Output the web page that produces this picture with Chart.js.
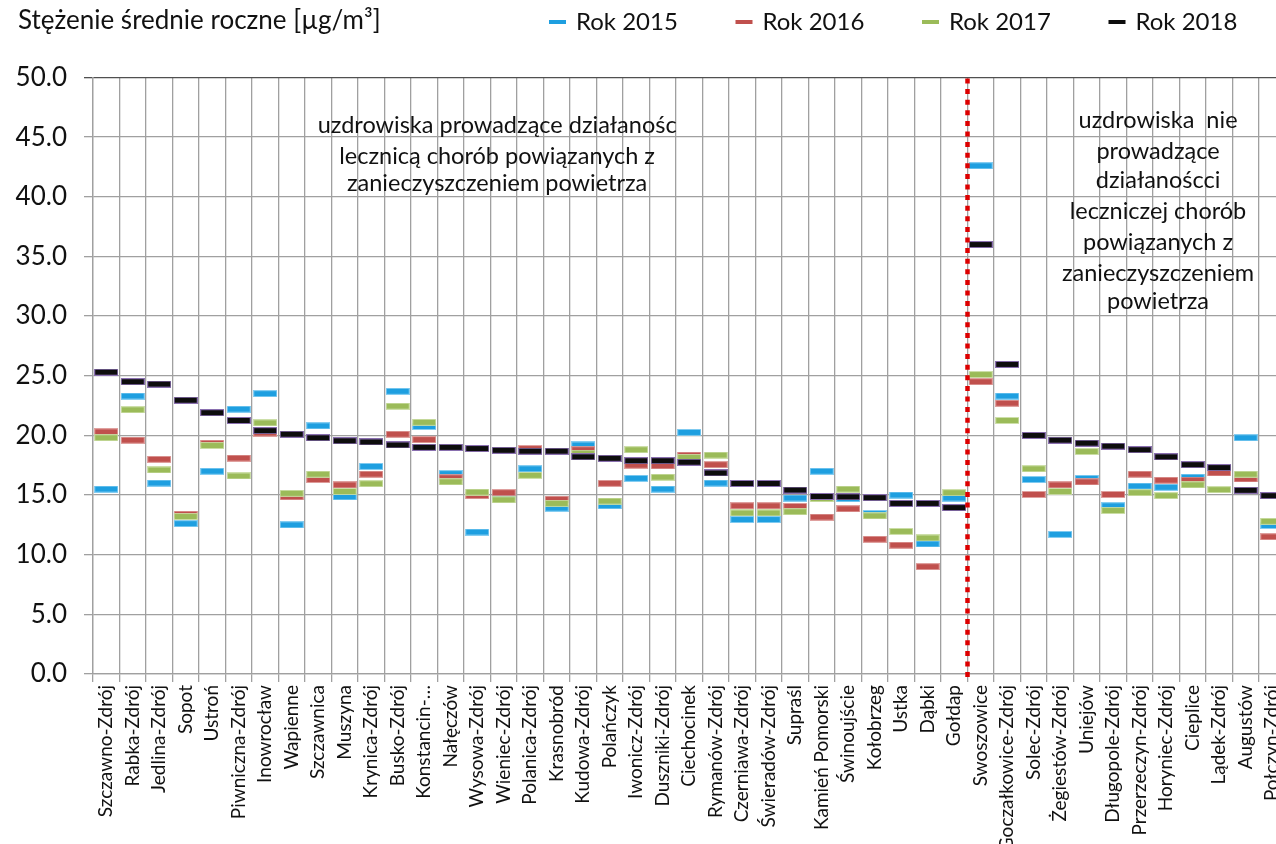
<!DOCTYPE html>
<html><head><meta charset="utf-8">
<script src="https://cdn.jsdelivr.net/npm/chart.js@4.4.1/dist/chart.umd.min.js"></script>
<style>html,body{margin:0;padding:0;background:#fff;overflow:hidden;width:1276px;height:844px}canvas{display:block}</style>
</head><body><canvas id="c" width="1310" height="844"></canvas>
<script>
const categories = ['Szczawno-Zdrój','Rabka-Zdrój','Jedlina-Zdrój','Sopot','Ustroń','Piwniczna-Zdrój','Inowrocław','Wapienne','Szczawnica','Muszyna','Krynica-Zdrój','Busko-Zdrój','Konstancin-…','Nałęczów','Wysowa-Zdrój','Wieniec-Zdrój','Polanica-Zdrój','Krasnobród','Kudowa-Zdrój','Polańczyk','Iwonicz-Zdrój','Duszniki-Zdrój','Ciechocinek','Rymanów-Zdrój','Czerniawa-Zdrój','Świeradów-Zdrój','Supraśl','Kamień Pomorski','Świnoujście','Kołobrzeg','Ustka','Dąbki','Gołdap','Swoszowice','Goczałkowice-Zdrój','Solec-Zdrój','Żegiestów-Zdrój','Uniejów','Długopole-Zdrój','Przerzeczyn-Zdrój','Horyniec-Zdrój','Cieplice','Lądek-Zdrój','Augustów','Połczyn-Zdrój'];
const seriesNames = ['Rok 2015','Rok 2016','Rok 2017','Rok 2018'];
const values2015 = [15.5,23.3,16.0,12.6,17.0,22.2,23.5,12.5,20.8,14.85,17.4,23.7,20.75,16.8,11.9,14.9,17.2,13.9,19.2,14.1,16.4,15.5,20.25,16.0,12.95,12.95,14.75,17.0,14.7,13.45,15.0,10.9,14.75,42.6,23.3,16.3,11.7,16.4,14.1,15.75,15.65,16.5,null,19.8,12.45];
const values2016 = [20.3,19.6,18.0,13.4,19.35,18.1,20.2,14.85,16.3,15.85,16.75,20.1,19.65,16.45,14.95,15.2,18.9,14.65,18.8,15.98,17.5,17.45,18.35,17.55,14.1,14.1,14.05,13.15,13.85,11.3,10.8,9.0,null,24.5,22.7,15.05,15.85,16.1,15.05,16.75,16.25,16.25,16.85,16.35,11.5];
const values2017 = [19.8,22.15,17.1,13.2,19.15,16.6,21.05,15.15,16.75,15.3,15.95,22.45,21.1,16.1,15.25,14.6,16.65,14.3,18.5,14.5,18.8,16.5,18.15,18.35,13.5,13.5,13.6,14.7,15.5,13.25,11.95,11.4,15.2,25.1,21.25,17.2,15.3,18.65,13.7,15.2,14.95,15.85,15.45,16.75,12.8];
const values2018 = [25.3,24.5,24.3,22.95,21.9,21.25,20.4,20.1,19.8,19.55,19.45,19.2,19.0,19.0,18.9,18.75,18.68,18.68,18.2,18.08,17.88,17.88,17.75,16.85,15.97,15.97,15.42,14.88,14.85,14.78,14.3,14.3,13.95,36.0,25.95,20.0,19.6,19.35,19.1,18.8,18.2,17.55,17.3,15.4,14.95];
const yMin = 0, yMax = 50, yStep = 5;
const dividerAfter = 'Gołdap';
const titleText = 'Stężenie średnie roczne [µg/m³]';
const noteLeft = ['uzdrowiska prowadzące działanośc','lecznicą chorób powiązanych z','zanieczyszczeniem powietrza'];
const noteRight = ['uzdrowiska  nie','prowadzące','działanoścci','leczniczej chorób','powiązanych z','zanieczyszczeniem','powietrza'];

const colors = ['#1e9fe0','#c0504d','#9bbb59','#0d0d0d'];
const edges = ['rgba(120,200,240,0.9)','rgba(220,150,148,0.9)','rgba(200,220,160,0.9)','#8a70b0'];

function makeMarker(fill, edge){
  const c = document.createElement('canvas');
  c.width = 24; c.height = 7;
  const g = c.getContext('2d');
  g.fillStyle = edge; g.fillRect(0,0,24,7);
  g.fillStyle = fill; g.fillRect(1,1,22,5);
  return c;
}

const FONT = 'Lato, "Open Sans", sans-serif';
const GRID = '#a0a0a0';

const allValues = [values2015, values2016, values2017, values2018];
const datasets = seriesNames.map((n,i)=>({
  label:n, data:allValues[i], showLine:false,
  pointStyle: makeMarker(colors[i], edges[i]),
  pointRadius:5, pointHoverRadius:5,
  borderColor:colors[i], backgroundColor:colors[i],
  order: 3-i
}));

const deco = {
  id:'deco',
  afterDatasetsDraw(chart){
    const ctx = chart.ctx, xs = chart.scales.x, ys = chart.scales.y, a = chart.chartArea;
    const k = categories.indexOf(dividerAfter);
    const xd = (xs.getPixelForValue(k) + xs.getPixelForValue(k+1))/2;
    ctx.save();
    ctx.strokeStyle = '#dd0000'; ctx.lineWidth = 4.5; ctx.setLineDash([5,5.6]);
    ctx.beginPath(); ctx.moveTo(xd, a.top+1); ctx.lineTo(xd, a.bottom+3); ctx.stroke();
    ctx.setLineDash([]);
    ctx.fillStyle = '#111'; ctx.textAlign='center'; ctx.textBaseline='middle';
    ctx.font = '23.5px ' + FONT;
    const lVals = [46.0,43.4,41.1];
    noteLeft.forEach((t,i)=>ctx.fillText(t, xs.getPixelForValue(14.75), ys.getPixelForValue(lVals[i])));
    const rVals = [46.4,43.8,41.4,38.8,36.2,33.6,31.2];
    noteRight.forEach((t,i)=>ctx.fillText(t, xs.getPixelForValue(39.69), ys.getPixelForValue(rVals[i])));
    // title
    ctx.textAlign='left';
    ctx.font = '26px ' + FONT;
    ctx.fillText(titleText, 18, 21);
    // legend
    ctx.font = '24px ' + FONT;
    seriesNames.forEach((n,i)=>{
      const mx = 549 + i*186.5;
      ctx.fillStyle = colors[i];
      ctx.fillRect(mx, 20, 17, 4);
      ctx.fillStyle = '#111';
      ctx.fillText(n, mx+27, 22);
    });
    ctx.restore();
  }
};

new Chart(document.getElementById('c'), {
  type:'line',
  data:{labels:categories, datasets},
  options:{
    responsive:false, animation:false, events:[],
    layout:{padding:{top:77.5,right:24.5,left:0,bottom:0}},
    plugins:{legend:{display:false}, title:{display:false}, tooltip:{enabled:false}},
    scales:{
      x:{
        offset:true,
        grid:{offset:true, color:GRID, lineWidth:1.3, tickLength:8, drawTicks:true},
        border:{color:GRID, width:1.3},
        ticks:{autoSkip:false, minRotation:90, maxRotation:90, padding:3, color:'#111', font:{family:FONT, size:19}},
        afterFit(s){ s.height = 170; }
      },
      y:{
        min:yMin, max:yMax,
        grid:{color:(c)=> c.tick && c.tick.value===yMax ? '#505050' : GRID, lineWidth:1.3, tickLength:9},
        border:{color:GRID, width:1.3},
        ticks:{stepSize:yStep, padding:17, color:'#111', font:{family:FONT, size:26}, callback:(v)=>Number(v).toFixed(1)},
        afterFit(s){ s.width = 93; }
      }
    }
  },
  plugins:[deco]
});
</script>
</body></html>
